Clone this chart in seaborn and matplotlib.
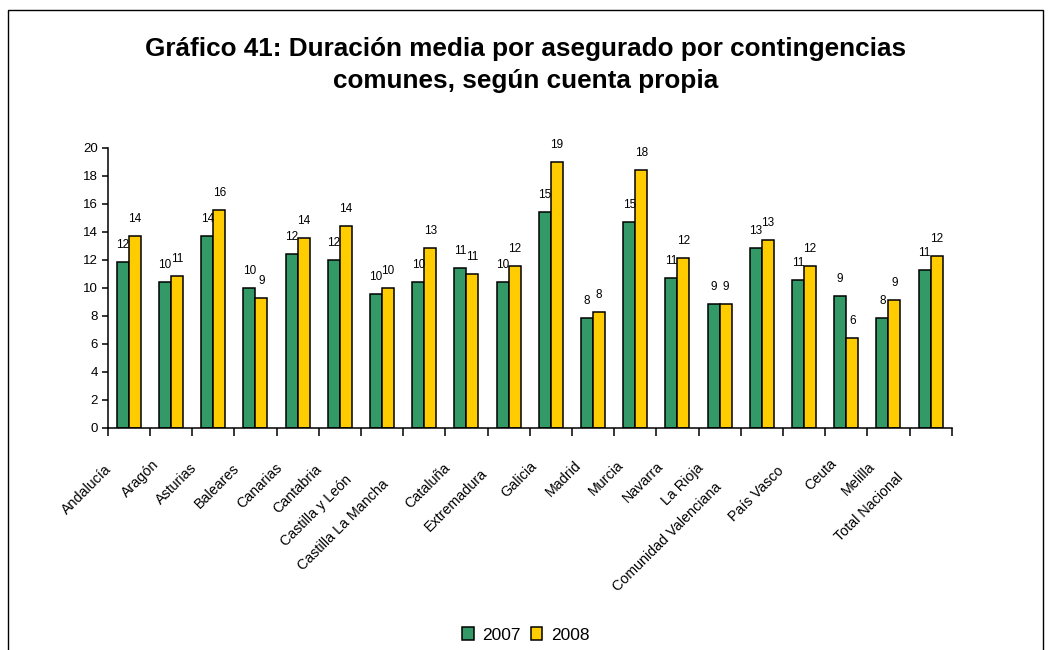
import numpy as np
import pandas as pd
import seaborn as sns
import matplotlib.pyplot as plt
from matplotlib import transforms
from matplotlib.patches import Rectangle

regiones = ['Andalucía', 'Aragón', 'Asturias', 'Baleares', 'Canarias', 'Cantabria',
            'Castilla y León', 'Castilla La Mancha', 'Cataluña', 'Extremadura',
            'Galicia', 'Madrid', 'Murcia', 'Navarra', 'La Rioja',
            'Comunidad Valenciana', 'País Vasco', 'Ceuta', 'Melilla', 'Total Nacional']
v2007 = [11.81, 10.38, 13.67, 9.95, 12.38, 11.95, 9.52, 10.38, 11.38, 10.38,
         15.38, 7.81, 14.67, 10.67, 8.81, 12.81, 10.52, 9.38, 7.81, 11.24]
v2008 = [13.67, 10.83, 15.52, 9.24, 13.52, 14.38, 9.95, 12.81, 10.95, 11.52,
         18.95, 8.24, 18.38, 12.10, 8.83, 13.38, 11.52, 6.38, 9.10, 12.24]
anios = ['2007', '2008']
colores = {'2007': '#339966', '2008': '#FFCC00'}

titulo = 'Gráfico 41: Duración media por asegurado por contingencias\ncomunes, según cuenta propia'

df = pd.DataFrame({
    'Comunidad': regiones * 2,
    'Año': [anios[0]] * len(regiones) + [anios[1]] * len(regiones),
    'Duración': v2007 + v2008,
})

sns.set_style('white')
plt.rcParams['font.family'] = ['Liberation Sans', 'DejaVu Sans']
plt.rcParams['text.color'] = 'black'
plt.rcParams['xtick.color'] = 'black'
plt.rcParams['ytick.color'] = 'black'

fig = plt.figure(figsize=(10.52, 6.5), dpi=100)
ax = fig.add_axes([0.1024, 0.342, 0.8023, 0.4308])

sns.barplot(data=df, x='Comunidad', y='Duración', hue='Año', palette=colores,
            order=regiones, hue_order=anios, width=0.57, saturation=1,
            edgecolor='black', linewidth=1.1, ax=ax)

for cont in ax.containers:
    ax.bar_label(cont, fmt='%.0f', padding=8, fontsize=8.5)

ax.set_xlim(-0.5, len(regiones) - 0.5)
ax.set_ylim(0, 20)
ax.set_yticks(np.arange(0, 21, 2))
ax.set_xticks(np.arange(-0.5, len(regiones), 1))
ax.set_xticklabels([])
ax.set_xlabel('')
ax.set_ylabel('')
ax.tick_params(axis='x', direction='out', length=6, width=1.1, color='black', bottom=True)
ax.tick_params(axis='y', direction='out', length=4, width=1.1, color='black',
               labelsize=9.5, pad=3, left=True)
sns.despine(ax=ax)
for s in ['left', 'bottom']:
    ax.spines[s].set_linewidth(1.1)
    ax.spines[s].set_color('black')

# etiquetas giradas, escalonadas como en Excel
for i, nombre in enumerate(regiones):
    n = len(nombre)
    off = transforms.ScaledTranslation(-(2 * n + 2) / 100, -(35 + 1.6 * (n - 6)) / 100,
                                       fig.dpi_scale_trans)
    ax.text(i, 0, nombre, transform=ax.get_xaxis_transform() + off, rotation=45,
            rotation_mode='anchor', ha='right', va='center', fontsize=10.3)

fig.text(0.5, 1 - 65 / 650, titulo, ha='center', va='center', fontsize=18.8,
         fontweight='bold', linespacing=1.4)

handles, labels = ax.get_legend_handles_labels()
ax.legend_.remove()
fig.legend(handles, labels, loc='center', bbox_to_anchor=(0.5, 1 - 635 / 650), ncol=2,
           frameon=False, fontsize=12.5, handlelength=0.65, handleheight=0.75,
           handletextpad=0.5, columnspacing=0.6)

fig.add_artist(Rectangle((8 / 1052, -0.1), (1043 - 8) / 1052, 1.1 - 10 / 650,
                         transform=fig.transFigure, fill=False, lw=1.0, edgecolor='black'))

fig.savefig('out.png', dpi=100)
